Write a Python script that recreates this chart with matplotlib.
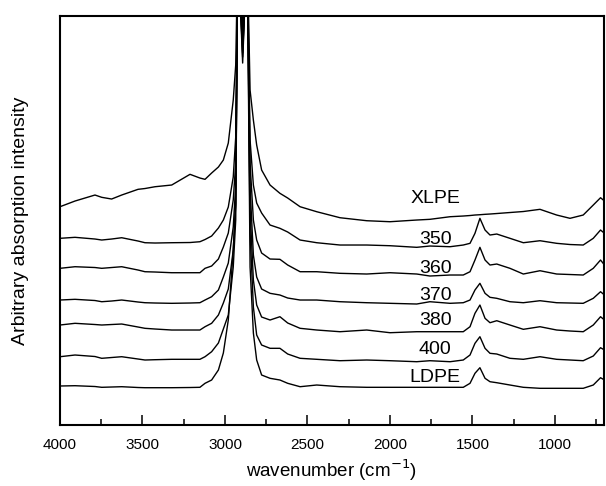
import matplotlib
matplotlib.use("Agg")
import matplotlib.pyplot as plt
from matplotlib.ticker import MultipleLocator

plt.rcParams["font.family"] = ["Liberation Sans", "DejaVu Sans"]

# wavenumber grid shared by all spectra (cm^-1)
wn = [4000, 3909, 3788, 3747, 3687, 3626, 3527, 3485, 3424, 3323, 3212, 3152, 3121,
      3081, 3040, 3010, 2980, 2950, 2935, 2922, 2893, 2866, 2848, 2828, 2808, 2778,
      2727, 2667, 2620, 2545, 2444, 2303, 2141, 2000, 1838, 1758, 1636, 1556, 1515,
      1485, 1455, 1424, 1394, 1353, 1273, 1192, 1091, 990, 909, 829, 768, 724, 700]

# stacked absorption spectra (arbitrary units, already offset)
xlpe = [218.3, 224, 230, 227.7, 226, 230, 235.7, 236.5, 238.3, 240, 250.7, 247, 245.7,
        252, 258, 265, 282, 325, 360, 480, 395, 480, 335, 305, 280, 255,
        240, 231.7, 227, 218.3, 213.3, 207.3, 204.3, 203.3, 205, 205.7, 208.3, 209, 209.5,
        210, 210.3, 210.7, 211, 211.5, 212.5, 213.5, 215.7, 210, 206.7, 210, 220, 227.3, 224]
s350 = [186.7, 187.7, 186, 185, 186, 187.3, 184, 182.3, 182, 182.3, 182.5, 183.3, 185.5,
        189, 197, 205, 218, 248, 288, 480, 390, 480, 285, 240, 222, 212,
        200, 196.7, 193, 185, 182.3, 180, 180, 179.3, 177.7, 179, 178.3, 180, 181.7,
        191.7, 206.7, 195, 190, 191, 186.7, 182.3, 184.3, 181.7, 180.5, 180, 186.7, 195, 191.7]
s360 = [156.7, 158.3, 157.5, 156.7, 157.5, 158.3, 155, 153.3, 153, 152.3, 152.3, 152.3, 156.7,
        159, 166, 178, 192, 225, 262, 480, 385, 480, 262, 205, 185, 172,
        166, 165.7, 160, 153.3, 153.3, 151.7, 151, 152.3, 151, 149, 150, 150, 153.3,
        165, 177.7, 165, 160, 161, 156.7, 151, 154.3, 151, 150.5, 150, 156.7, 165, 160]
s370 = [125, 125.7, 124.5, 123.3, 124, 125, 123, 122.3, 122, 121.7, 122, 122.3, 125,
        128.3, 135, 148, 162, 198, 240, 480, 378, 480, 238, 170, 148, 136,
        131.7, 130, 127, 125, 125, 123.3, 122.3, 121.7, 121, 123.3, 121.7, 122.3, 125,
        135, 141.7, 131.7, 127.7, 126.7, 123.3, 122.3, 124.3, 122.3, 122, 121.7, 126.7, 133.3, 130]
s380 = [100, 101.7, 100.5, 100, 100.5, 101, 98, 96.7, 96, 95, 95, 95, 98.3,
        101.7, 110, 122, 136, 175, 220, 480, 372, 480, 215, 145, 120, 108,
        105, 108.3, 102, 96.7, 95, 93.3, 95, 92.3, 93.3, 93.3, 93.3, 93.3, 98.3,
        111.7, 120, 106.7, 102.3, 104.3, 100, 95.7, 98.3, 95, 94, 93.3, 100, 108.3, 105]
s400 = [68.3, 70, 68.5, 66.7, 67.5, 68.3, 66, 65, 65.3, 65.7, 65.7, 65.7, 68.3,
        73.3, 82, 96, 110, 158, 205, 480, 368, 480, 192, 118, 90, 80,
        76.7, 76.7, 71, 66.7, 65.7, 64.3, 65, 64.3, 63.3, 64.3, 63.3, 65, 70,
        81.7, 88.3, 76.7, 71.7, 71, 66.7, 65.7, 68.3, 65.7, 65, 64.3, 69, 77.3, 75]
ldpe = [39, 39.3, 38.5, 37.7, 38, 38.3, 37.5, 37.3, 37.3, 37.3, 37.5, 37.7, 41.7,
        45, 55, 72, 105, 175, 222, 480, 362, 480, 158, 92, 65, 50,
        46.7, 45, 41.7, 38.3, 40, 38.3, 37.7, 37.7, 37.7, 37.7, 37.7, 37.7, 41.7,
        51.7, 57.3, 46.7, 43.3, 42.3, 40, 37.7, 36.7, 36.7, 36.7, 36.7, 40, 47.3, 45]

labels = ["XLPE", "350", "360", "370", "380", "400", "LDPE"]
label_y = [227, 186, 157, 130, 105, 76, 48]

fig = plt.figure(figsize=(6.06, 4.86), dpi=100)
ax = fig.add_axes([0.099, 0.1255, 0.8977, 0.8415])

for s in [xlpe, s350, s360, s370, s380, s400, ldpe]:
    ax.plot(wn, s, color="black", lw=1.0)

for lab, yy in zip(labels, label_y):
    ax.text(1727, yy, lab, fontsize=14, ha="center", va="center")

ax.set_xlim(4000, 703)
ax.set_ylim(0, 409)
ax.xaxis.set_major_locator(MultipleLocator(500))
ax.xaxis.set_minor_locator(MultipleLocator(250))
ax.tick_params(axis="x", which="major", direction="in", length=7, width=1.1, labelsize=11, pad=9)
ax.tick_params(axis="x", which="minor", direction="in", length=4, width=1.1)
ax.set_yticks([])
for sp in ax.spines.values():
    sp.set_linewidth(1.5)

ax.set_xlabel("wavenumber (cm$^{-1}$)", fontsize=13.5, labelpad=4)
ax.set_ylabel("Arbitrary absorption intensity", fontsize=14, labelpad=22)

fig.savefig("out.png", dpi=100)
plt.close()
